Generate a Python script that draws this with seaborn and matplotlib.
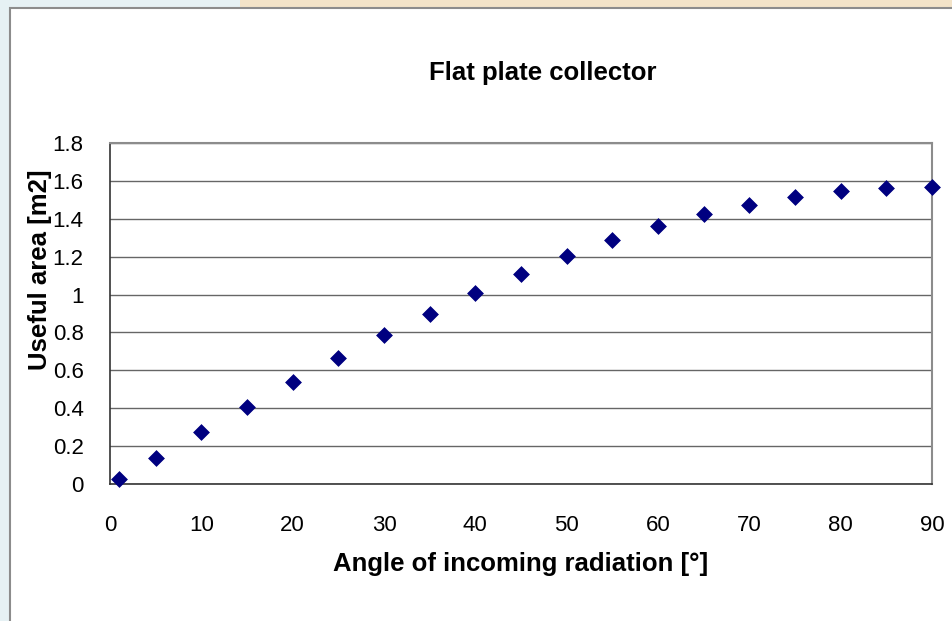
import matplotlib
matplotlib.use("Agg")
import matplotlib.pyplot as plt
import seaborn as sns
import pandas as pd
from matplotlib.patches import Rectangle

angles = [1, 5, 10, 15, 20, 25, 30, 35, 40, 45, 50, 55, 60, 65, 70, 75, 80, 85, 90]
useful_area = [0.027, 0.137, 0.273, 0.406, 0.537, 0.664, 0.785, 0.90, 1.009, 1.11,
               1.203, 1.286, 1.36, 1.423, 1.475, 1.517, 1.546, 1.564, 1.57]
x_ticks = [0, 10, 20, 30, 40, 50, 60, 70, 80, 90]
y_ticks = [0, 0.2, 0.4, 0.6, 0.8, 1.0, 1.2, 1.4, 1.6, 1.8]
y_tick_labels = ["0", "0.2", "0.4", "0.6", "0.8", "1", "1.2", "1.4", "1.6", "1.8"]

df = pd.DataFrame({"angle": angles, "area": useful_area})

sns.set_theme(style="white")
plt.rcParams["font.family"] = ["Liberation Sans", "DejaVu Sans"]
plt.rcParams["text.color"] = "black"
plt.rcParams["axes.labelcolor"] = "black"

W, H = 953, 621
fig = plt.figure(figsize=(W / 100, H / 100), dpi=100)
fig.patch.set_facecolor("#e6f1f4")

# outer slide strips and chart area
fig.patches.append(Rectangle((240 / W, 1 - 8 / H), 1 - 240 / W, 8 / H, transform=fig.transFigure,
                             facecolor="#f3e3c8", edgecolor="none", zorder=-20))
fig.patches.append(Rectangle((10 / W, -0.01), 1, 1 - 8 / H + 0.01, transform=fig.transFigure,
                             facecolor="white", edgecolor="#8c8c8c", linewidth=1.5, zorder=-10))

left, right, top, bottom = 110, 932, 143, 484
ax = fig.add_axes([left / W, 1 - bottom / H, (right - left) / W, (bottom - top) / H])
ax.set_zorder(5)
ax.set_facecolor("white")

sns.scatterplot(data=df, x="angle", y="area", ax=ax, marker="D", s=65,
                color="#000080", edgecolor="#000080", linewidth=0.5, zorder=5, clip_on=False)

ax.set_xlim(0, 90)
ax.set_ylim(0, 1.8)
ax.set_xticks(x_ticks)
ax.set_yticks(y_ticks)
ax.set_yticklabels(y_tick_labels)
ax.tick_params(axis="both", labelsize=16, labelcolor="black", direction="out", length=5,
               width=1, color="#444444")
ax.tick_params(axis="y", pad=14)
ax.tick_params(axis="x", pad=17)
ax.grid(axis="y", color="#666666", linewidth=1)
ax.grid(axis="x", visible=False)
ax.set_axisbelow(True)

for side in ["top", "right"]:
    ax.spines[side].set_color("#8c8c8c")
    ax.spines[side].set_linewidth(1.5)
for side in ["left", "bottom"]:
    ax.spines[side].set_color("#333333")
    ax.spines[side].set_linewidth(1.2)

ax.set_xlabel("Angle of incoming radiation [°]", fontsize=18.5, fontweight="bold",
              labelpad=12, color="black")
ax.set_ylabel("Useful area [m2]", fontsize=18.5, fontweight="bold", color="black")
ax.yaxis.set_label_coords(-0.0706, 0.628)

fig.text(543 / W, 1 - 80 / H, "Flat plate collector", fontsize=18.5, fontweight="bold",
         ha="center", va="baseline", color="black")

fig.savefig("out.png", dpi=100, facecolor=fig.get_facecolor())
